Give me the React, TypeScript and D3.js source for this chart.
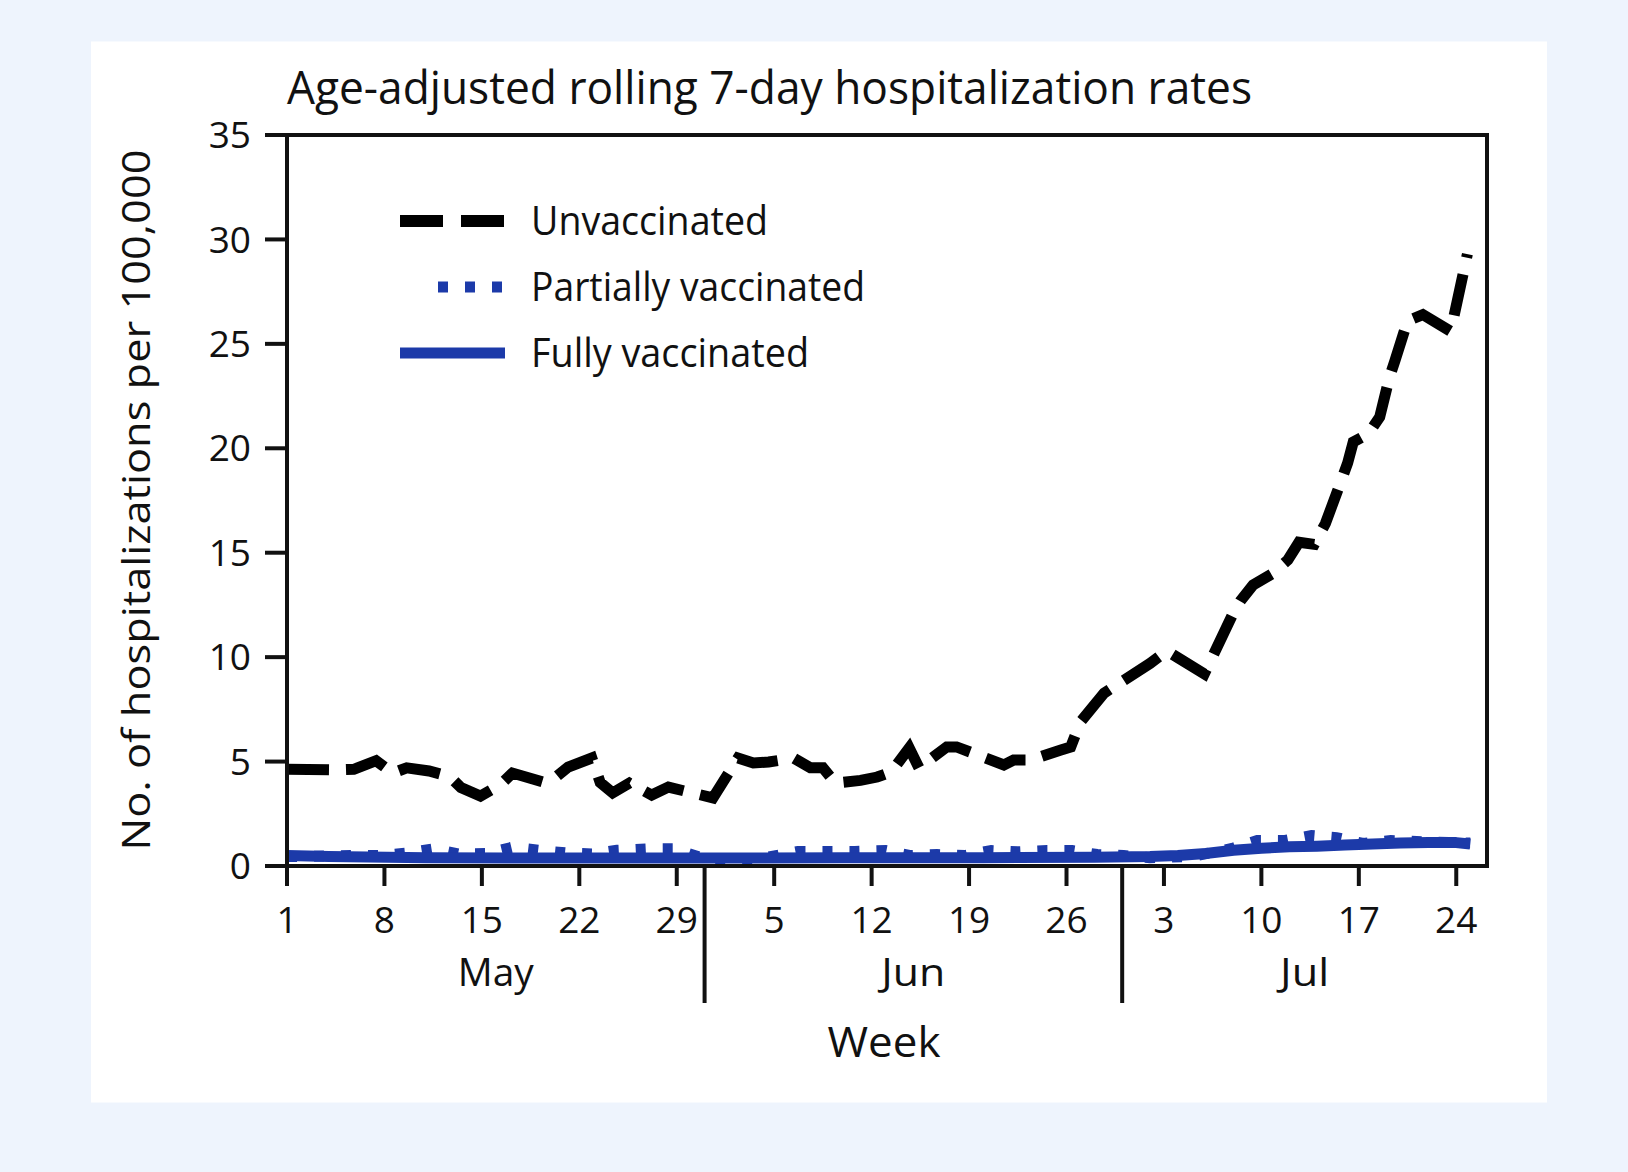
import React, { useEffect, useRef } from "react";
import * as d3 from "d3";

// days are offsets from May 1, 2021; rates per 100,000
const unvaxDays = [0, 3.5, 4.8, 6.4, 7.6, 8.6, 10.2, 11.7, 12.5, 13.9, 15.3, 16.2, 18.5, 19.3, 20.2, 21.9, 22.5, 23.4, 24.6, 26.2, 27.4, 30.6, 32.4, 33.5, 34.6, 36.4, 37.6, 38.5, 39.4, 41.2, 42.4, 43.4, 44.7, 45.4, 47.4, 48.1, 49.3, 51.5, 52.2, 53.4, 55.6, 56.3, 57.0, 58.7, 59.6, 62.0, 63.2, 65.9, 67.9, 68.5, 69.4, 70.8, 71.9, 72.7, 73.8, 74.6, 75.6, 76.2, 76.6, 77.7, 78.5, 79.2, 79.6, 80.5, 81.6, 83.6, 84.8];
const unvaxRates = [4.63, 4.6, 4.63, 5.04, 4.45, 4.7, 4.55, 4.28, 3.75, 3.35, 3.88, 4.45, 4.0, 4.25, 4.74, 5.17, 4.0, 3.5, 3.97, 3.4, 3.78, 3.26, 5.17, 4.93, 4.98, 5.17, 4.7, 4.7, 3.97, 4.1, 4.26, 4.5, 5.65, 4.7, 5.7, 5.7, 5.4, 4.84, 5.07, 5.07, 5.55, 5.7, 6.9, 8.28, 8.67, 9.7, 10.3, 9.2, 12.0, 12.7, 13.45, 14.0, 14.65, 15.5, 15.4, 16.4, 18.2, 19.3, 20.3, 20.7, 21.5, 23.4, 24.2, 26.1, 26.4, 25.6, 29.3];

const partialDays = [0, 4.6, 6.6, 8.6, 10.5, 12.3, 14.3, 16.2, 18.1, 20, 21.9, 23.7, 25.8, 27.8, 30, 34, 36.7, 38.9, 40.8, 43, 44.8, 46.7, 48.7, 50.6, 52.5, 54.6, 56.4, 58.2, 60.1, 62, 65, 67.9, 69.7, 71.7, 73.6, 75.4, 77.3, 79.3, 82, 85];
const partialRates = [0.45, 0.5, 0.5, 0.62, 0.82, 0.58, 0.6, 0.9, 0.75, 0.63, 0.58, 0.75, 0.82, 0.82, 0.35, 0.35, 0.7, 0.7, 0.7, 0.74, 0.5, 0.55, 0.5, 0.74, 0.68, 0.74, 0.74, 0.55, 0.5, 0.4, 0.45, 0.84, 1.22, 1.22, 1.46, 1.36, 1.08, 1.22, 1.15, 1.1];

const fullDays = [0, 3, 10, 20, 30, 40, 50, 58, 62, 64, 66, 68, 70, 72, 74, 76, 78, 80, 82, 84, 85];
const fullRates = [0.5, 0.45, 0.4, 0.38, 0.38, 0.4, 0.4, 0.42, 0.45, 0.5, 0.6, 0.75, 0.85, 0.92, 0.95, 1.0, 1.05, 1.1, 1.12, 1.12, 1.05];

const yTicks = [0, 5, 10, 15, 20, 25, 30, 35];
const monthNames = ["May", "Jun", "Jul"];
const monthBreaks = [new Date(2021, 4, 31), new Date(2021, 5, 30)];
const legendLabels = ["Unvaccinated", "Partially vaccinated", "Fully vaccinated"];

const W = 1628;
const H = 1172;
const start = new Date(2021, 4, 1);
const end = d3.timeHour.offset(new Date(2021, 6, 26), 5);
const box = { left: 287, right: 1487, top: 135, bottom: 866 };
const BLUE = "#1c3aa9";
const INK = "#111";
const FONT = "'Open Sans', 'Noto Sans', sans-serif";

const toDate = (d: number) => new Date(start.getTime() + d * 864e5);
const zip = (days: number[], rates: number[]) => days.map((d, i) => ({ date: toDate(d), v: rates[i] }));

export default function App() {
    const ref = useRef<SVGSVGElement>(null);

    useEffect(() => {
        const svg = d3.select(ref.current);
        svg.selectAll("*").remove();

        const x = d3.scaleTime().domain([start, end]).range([box.left, box.right]);
        const y = d3.scaleLinear().domain([0, 35]).range([box.bottom, box.top]);

        svg.append("rect").attr("width", W).attr("height", H).attr("fill", "#eef4fd");
        svg.append("rect").attr("x", 91).attr("y", 41.5).attr("width", 1456).attr("height", 1061).attr("fill", "#ffffff");

        // title
        svg.append("text")
            .attr("x", box.left).attr("y", 104)
            .attr("font-family", FONT).attr("font-size", 45)
            .attr("textLength", 965).attr("lengthAdjust", "spacingAndGlyphs")
            .attr("fill", INK)
            .text("Age-adjusted rolling 7-day hospitalization rates");

        const line = d3.line<{ date: Date; v: number }>()
            .x(d => x(d.date))
            .y(d => y(d.v));

        const g = svg.append("g");
        g.append("path")
            .attr("d", line(zip(unvaxDays, unvaxRates)))
            .attr("fill", "none").attr("stroke", "#000").attr("stroke-width", 11)
            .attr("stroke-dasharray", "42 17").attr("stroke-linejoin", "miter");
        g.append("path")
            .attr("d", line(zip(partialDays, partialRates)))
            .attr("fill", "none").attr("stroke", BLUE).attr("stroke-width", 11)
            .attr("stroke-dasharray", "10 17");
        g.append("path")
            .attr("d", line(zip(fullDays, fullRates)))
            .attr("fill", "none").attr("stroke", BLUE).attr("stroke-width", 11)
            .attr("stroke-linejoin", "round");

        // frame
        svg.append("rect")
            .attr("x", box.left).attr("y", box.top)
            .attr("width", box.right - box.left).attr("height", box.bottom - box.top)
            .attr("fill", "none").attr("stroke", INK).attr("stroke-width", 4);

        // y axis
        const yAxis = svg.append("g");
        yTicks.forEach(t => {
            yAxis.append("line")
                .attr("x1", box.left - 22).attr("x2", box.left)
                .attr("y1", y(t)).attr("y2", y(t))
                .attr("stroke", INK).attr("stroke-width", 4);
            yAxis.append("text")
                .attr("x", 251).attr("y", y(t) + 13.2)
                .attr("text-anchor", "end")
                .attr("font-family", FONT).attr("font-size", 37).attr("fill", INK)
                .text(t);
        });

        // x axis: weekly ticks on Saturdays
        const xTicks = x.ticks(d3.timeSaturday.every(1)!);
        const fmt = d3.timeFormat("%-d");
        const xAxis = svg.append("g");
        xTicks.forEach(t => {
            xAxis.append("line")
                .attr("x1", x(t)).attr("x2", x(t))
                .attr("y1", box.bottom).attr("y2", box.bottom + 20)
                .attr("stroke", INK).attr("stroke-width", 4);
            xAxis.append("text")
                .attr("x", x(t)).attr("y", 933)
                .attr("text-anchor", "middle")
                .attr("font-family", FONT).attr("font-size", 37).attr("fill", INK)
                .text(fmt(t));
        });
        monthBreaks.forEach(b => {
            xAxis.append("line")
                .attr("x1", x(b)).attr("x2", x(b))
                .attr("y1", box.bottom).attr("y2", 1003)
                .attr("stroke", INK).attr("stroke-width", 4);
        });
        const edges = [start, ...monthBreaks, end];
        const monthWidths = [76, 64, 49];
        monthNames.forEach((m, i) => {
            const cx = (x(edges[i]) + x(edges[i + 1])) / 2;
            xAxis.append("text")
                .attr("x", cx).attr("y", 986)
                .attr("text-anchor", "middle")
                .attr("font-family", FONT).attr("font-size", 38).attr("fill", INK)
                .attr("textLength", monthWidths[i]).attr("lengthAdjust", "spacingAndGlyphs")
                .text(m);
        });
        svg.append("text")
            .attr("x", 884).attr("y", 1057)
            .attr("text-anchor", "middle")
            .attr("font-family", FONT).attr("font-size", 42).attr("fill", INK)
            .attr("textLength", 113).attr("lengthAdjust", "spacingAndGlyphs")
            .text("Week");

        // y axis title
        svg.append("text")
            .attr("transform", "translate(150,500) rotate(-90)")
            .attr("text-anchor", "middle")
            .attr("font-family", FONT).attr("font-size", 39).attr("fill", INK)
            .attr("textLength", 701).attr("lengthAdjust", "spacingAndGlyphs")
            .text("No. of hospitalizations per 100,000");

        // legend
        const legendY = [221, 287, 353];
        const legendW = [237, 334, 278];
        const lg = svg.append("g");
        lg.append("line")
            .attr("x1", 400).attr("x2", 505).attr("y1", legendY[0]).attr("y2", legendY[0])
            .attr("stroke", "#000").attr("stroke-width", 12).attr("stroke-dasharray", "43 18");
        lg.append("line")
            .attr("x1", 438).attr("x2", 505).attr("y1", legendY[1]).attr("y2", legendY[1])
            .attr("stroke", BLUE).attr("stroke-width", 11).attr("stroke-dasharray", "10 17");
        lg.append("line")
            .attr("x1", 400).attr("x2", 505).attr("y1", legendY[2]).attr("y2", legendY[2])
            .attr("stroke", BLUE).attr("stroke-width", 11);
        legendLabels.forEach((l, i) => {
            lg.append("text")
                .attr("x", 531).attr("y", legendY[i] + 14.3)
                .attr("font-family", FONT).attr("font-size", 40).attr("fill", INK)
                .attr("textLength", legendW[i]).attr("lengthAdjust", "spacingAndGlyphs")
                .text(l);
        });
    }, []);

    return <svg ref={ref} width={W} height={H} style={{ position: "absolute", left: 0, top: 0 }} />;
}
